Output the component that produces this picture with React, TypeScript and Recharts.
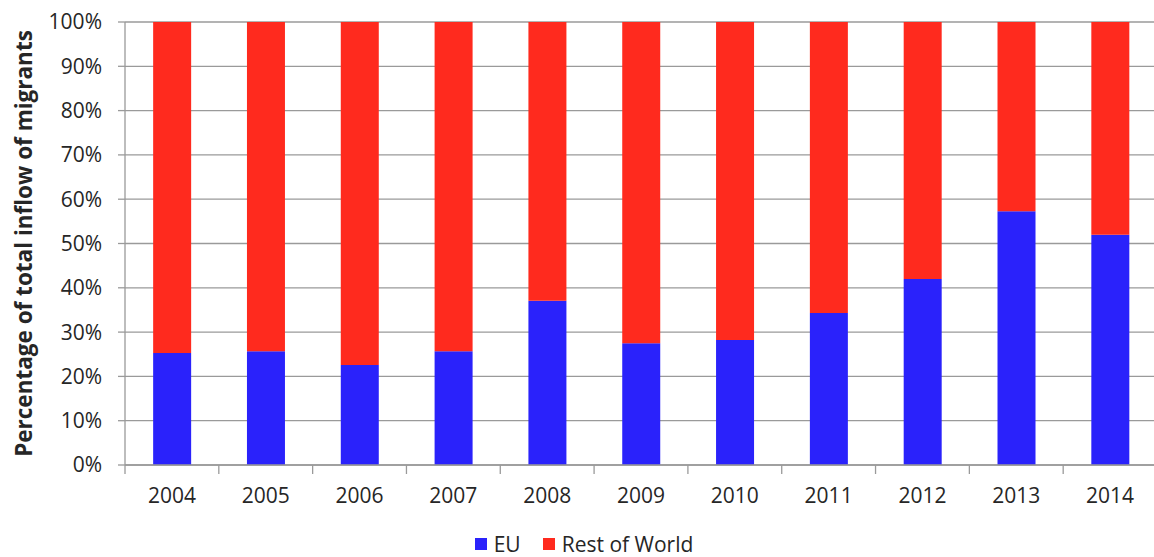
import React from "react";
import { BarChart, Bar, XAxis, YAxis, CartesianGrid, Legend } from "recharts";

const years = ["2004", "2005", "2006", "2007", "2008", "2009", "2010", "2011", "2012", "2013", "2014"];
const euShare = [25.3, 25.7, 22.6, 25.7, 37.1, 27.5, 28.2, 34.3, 42.0, 57.3, 52.0];
const restShare = [74.7, 74.3, 77.4, 74.3, 62.9, 72.5, 71.8, 65.7, 58.0, 42.7, 48.0];
const percentTicks = [0, 10, 20, 30, 40, 50, 60, 70, 80, 90, 100];

const EU_COLOR = "#2a22fb";
const ROW_COLOR = "#ff2a1e";
const GRID = "#9a9a9a";
const TEXT = "#262626";
const FONT = "'Open Sans', sans-serif";

const data = years.map((year, i) => ({ year, eu: euShare[i], row: restShare[i] }));

// Category label plus a short tick mark at the left edge of each category band
const YearTick = (props: any) => {
  const { x, y, payload, index, visibleTicksCount } = props;
  const half = payload && typeof payload.offset === "number" ? payload.offset : 0;
  const last = index === (visibleTicksCount ?? years.length) - 1;
  return (
    <g>
      {half > 0 && <line x1={x - half} x2={x - half} y1={y - 10} y2={y - 1} stroke={GRID} strokeWidth={1.3} />}
      {half > 0 && last && <line x1={x + half} x2={x + half} y1={y - 10} y2={y - 1} stroke={GRID} strokeWidth={1.3} />}
      <text x={x} y={y + 28} textAnchor="middle" fill={TEXT} fontFamily={FONT} fontSize={21}>
        {payload.value}
      </text>
    </g>
  );
};

const AxisTitle = (props: any) => {
  const vb = props.viewBox || {};
  const cx = 23;
  const cy = (vb.y ?? 0) + (vb.height ?? 0) / 2;
  return (
    <text
      x={cx}
      y={cy}
      transform={`rotate(-90, ${cx}, ${cy})`}
      textAnchor="middle"
      dominantBaseline="central"
      fill={TEXT}
      fontFamily={FONT}
      fontWeight={700}
      fontSize={22.5}
    >
      Percentage of total inflow of migrants
    </text>
  );
};

const LegendBox = () => (
  <div
    style={{
      display: "flex",
      justifyContent: "center",
      alignItems: "center",
      paddingLeft: 14,
      height: 22,
      fontFamily: FONT,
      fontSize: 21,
      color: TEXT,
      lineHeight: "22px",
    }}
  >
    {[
      { name: "EU", color: EU_COLOR },
      { name: "Rest of World", color: ROW_COLOR },
    ].map((item, i) => (
      <span key={item.name} style={{ display: "inline-flex", alignItems: "center", marginLeft: i ? 22 : 0 }}>
        <span style={{ width: 12, height: 12, background: item.color, display: "inline-block", marginRight: 7 }} />
        {item.name}
      </span>
    ))}
  </div>
);

export default function App() {
  return (
    <div style={{ position: "absolute", left: 0, top: 0, background: "#fff" }}>
      <BarChart
        width={1154}
        height={557}
        data={data}
        margin={{ top: 22, right: -3, left: 0, bottom: 2 }}
        barCategoryGap="30%"
      >
        <CartesianGrid vertical={false} stroke={GRID} strokeWidth={1.3} />
        <XAxis
          dataKey="year"
          height={68}
          axisLine={{ stroke: GRID, strokeWidth: 1.3 }}
          tickLine={false}
          tickSize={8}
          tickMargin={2}
          tick={<YearTick />}
          interval={0}
        />
        <YAxis
          width={125}
          domain={[0, 100]}
          ticks={percentTicks}
          tickFormatter={(v: number) => `${v}%`}
          axisLine={{ stroke: GRID, strokeWidth: 1.3 }}
          tickLine={{ stroke: GRID, strokeWidth: 1.3 }}
          tickSize={7}
          tickMargin={16}
          tick={{ fill: TEXT, fontFamily: FONT, fontSize: 21 }}
          label={<AxisTitle />}
        />
        <Legend verticalAlign="bottom" height={22} content={<LegendBox />} wrapperStyle={{ left: 0, width: 1154 }} />
        <Bar dataKey="eu" name="EU" stackId="a" fill={EU_COLOR} isAnimationActive={false} />
        <Bar dataKey="row" name="Rest of World" stackId="a" fill={ROW_COLOR} isAnimationActive={false} />
      </BarChart>
    </div>
  );
}
